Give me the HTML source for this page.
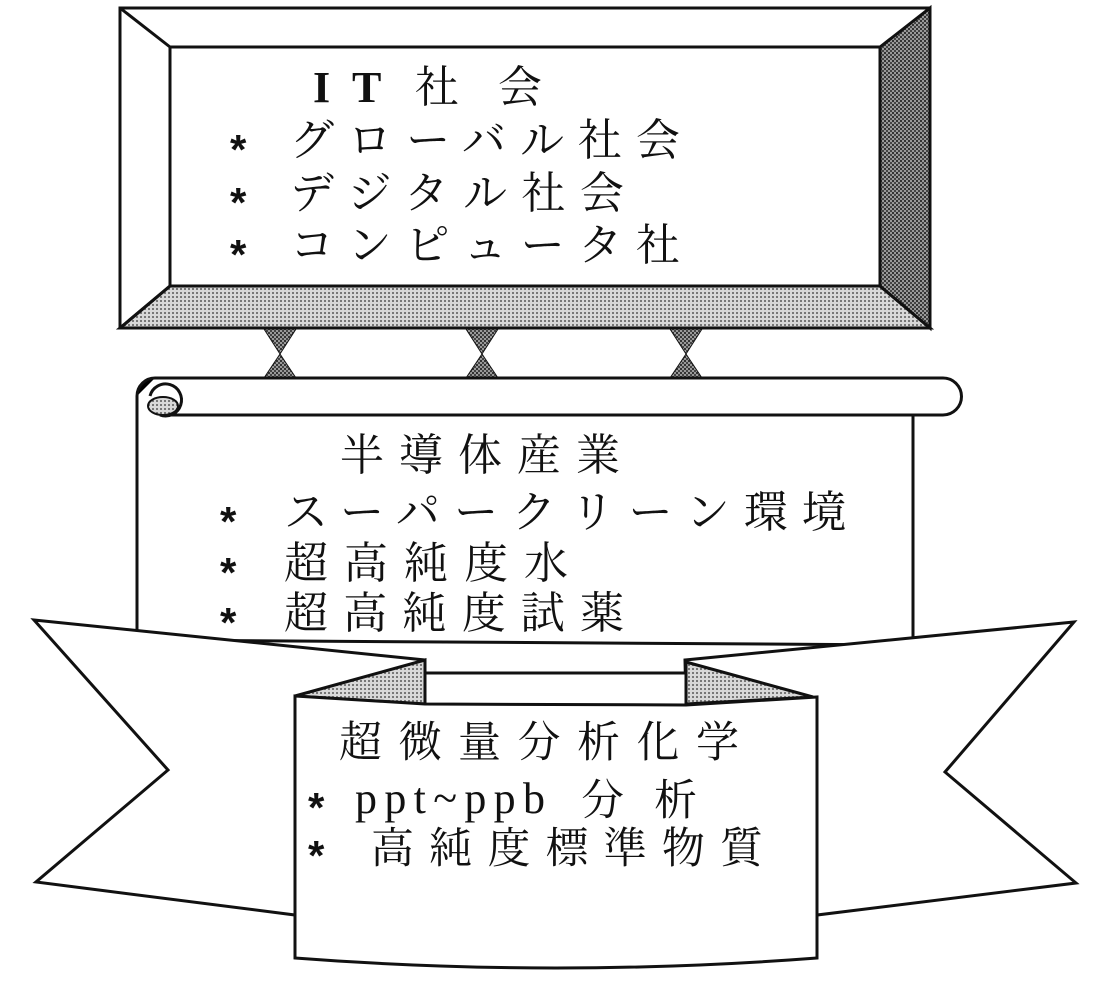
<!DOCTYPE html>
<html><head><meta charset="utf-8"><style>
html,body{margin:0;padding:0;background:#fff;}
svg{display:block;}
.s{font-family:"Liberation Serif","Noto Serif CJK JP","Noto Serif CJK SC",serif;font-size:44px;fill:#111;}
.g{font-family:"Liberation Serif","Noto Serif CJK JP",serif;font-size:43px;fill:#111;}
.a{font-family:"Liberation Sans",sans-serif;font-size:42px;font-weight:bold;fill:#111;}
</style></head><body>
<svg width="1116" height="998" viewBox="0 0 1116 998" xmlns="http://www.w3.org/2000/svg">
<defs>
<pattern id="lt" width="4" height="4" patternUnits="userSpaceOnUse"><rect width="4" height="4" fill="#d8d8d8"/><rect width="2" height="2" fill="#777"/></pattern>
<pattern id="dk" width="4" height="4" patternUnits="userSpaceOnUse"><rect width="4" height="4" fill="#999"/><rect width="2" height="2" fill="#333"/><rect x="2" y="2" width="2" height="2" fill="#444"/></pattern>
</defs>
<g stroke="#111" stroke-width="3" stroke-linejoin="miter">
<rect x="120" y="8" width="810" height="320" fill="#fff"/>
<polygon points="120,328 170,286 880,286 930,328" fill="url(#lt)"/>
<polygon points="880,47 930,8 930,328 880,286" fill="url(#dk)"/>
<rect x="170" y="47" width="710" height="239" fill="#fff"/>
<line x1="120" y1="8" x2="170" y2="47"/>
<line x1="120" y1="328" x2="170" y2="286"/>
<g fill="url(#dk)" stroke-width="1">
<polygon points="264,329 296,329 280,354"/><polygon points="280,354 264,378 296,378"/>
<polygon points="466,329 498,329 482,354"/><polygon points="482,354 466,378 498,378"/>
<polygon points="670,329 702,329 686,354"/><polygon points="686,354 670,378 702,378"/>
</g>
<path d="M137,396 L137,640 L913,645 L913,415" fill="#fff"/>
<path d="M155,378 L943,378 A18.5,18.5 0 0 1 943,415 L160,415" fill="#fff"/>
<path d="M155,378 A18,18 0 0 0 137,396"/>
<path d="M160,415 A16,16 0 1 0 150,396" fill="none"/>
<ellipse cx="163" cy="406" rx="15" ry="9" fill="url(#lt)" stroke-width="2"/>
<polygon points="34,620 425,660 425,705 295,705 295,915 36,882 168,770" fill="#fff"/>
<polygon points="685,660 1074,622 945,772 1076,883 817,915 817,705 686,705" fill="#fff"/>
<rect x="425" y="673" width="261" height="32" fill="#fff" stroke="none"/>
<line x1="425" y1="673" x2="686" y2="673"/>
<line x1="425" y1="660" x2="425" y2="705"/>
<line x1="686" y1="660" x2="686" y2="705"/>
<polygon points="295,696 425,660 425,704" fill="url(#lt)"/>
<polygon points="686,662 813,697 686,704" fill="url(#lt)"/>
<path d="M295,696 L425,704 L686,705 L817,697 L817,958 Q556,978 295,958 Z" fill="#fff"/>
</g>
<g class="s">
<text x="313" y="102" font-weight="bold">I</text><text x="352" y="102" font-weight="bold">T</text><text x="415" y="102">社</text><text x="498" y="102">会</text>
<text x="290" y="155" textLength="390" lengthAdjust="spacing">グローバル社会</text>
<text x="290" y="208" textLength="334" lengthAdjust="spacing">デジタル社会</text>
<text x="290" y="260" textLength="390" lengthAdjust="spacing">コンピュータ社</text>
<text x="340" y="470" textLength="280" lengthAdjust="spacing">半導体産業</text>
<text x="284" y="527" textLength="562" lengthAdjust="spacing">スーパークリーン環境</text>
<text x="284" y="578" textLength="284" lengthAdjust="spacing">超高純度水</text>
<text x="284" y="628" textLength="340" lengthAdjust="spacing">超高純度試薬</text>
</g>
<g class="a">
<text x="230" y="164">*</text><text x="230" y="217">*</text><text x="230" y="269">*</text>
<text x="220" y="536">*</text><text x="220" y="587">*</text><text x="220" y="637">*</text>
<text x="308" y="822">*</text><text x="308" y="870">*</text>
</g>
<g class="g">
<text x="339" y="757" textLength="400" lengthAdjust="spacing">超微量分析化学</text>
<text x="355" y="813" font-family="Liberation Serif" font-size="44" textLength="190" lengthAdjust="spacing">ppt~ppb</text>
<text x="581" y="815" textLength="116" lengthAdjust="spacing">分析</text>
<text x="371" y="863" textLength="392" lengthAdjust="spacing">高純度標準物質</text>
</g>
</svg>
</body></html>
